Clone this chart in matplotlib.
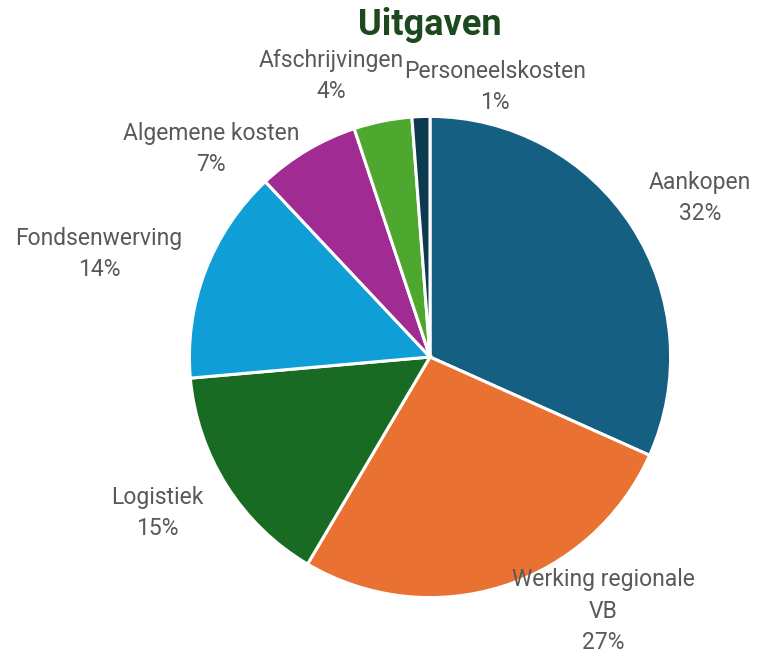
import matplotlib
matplotlib.use("Agg")
import matplotlib.pyplot as plt

categories = ["Aankopen", "Werking regionale\nVB", "Logistiek", "Fondsenwerving",
              "Algemene kosten", "Afschrijvingen", "Personeelskosten"]
values = [31.7, 26.8, 15.1, 14.4, 6.9, 3.9, 1.2]
colors = ["#156082", "#E97132", "#196B24", "#0F9ED5", "#A02B93", "#4EA72E", "#0E3A50"]

# label centre positions in pixels (x, y from top)
label_pos = [(700, 198), (603, 611), (157, 513), (99, 254), (211, 149), (331, 76), (495, 87)]

W, H = 757, 655
fig = plt.figure(figsize=(W / 100, H / 100), dpi=100)
cx, cy, r = 430, 357, 243
ax = fig.add_axes([(cx - r) / W, 1 - (cy + r) / H, 2 * r / W, 2 * r / H])
ax.pie(values, colors=colors, startangle=90, counterclock=False, radius=1,
       wedgeprops=dict(edgecolor="white", linewidth=2.2))
ax.set_xlim(-1.01, 1.01)
ax.set_ylim(-1.01, 1.01)
ax.set_aspect("equal")
ax.axis("off")

total = sum(values)
for cat, v, (px, py) in zip(categories, values, label_pos):
    fig.text(px / W, 1 - py / H, f"{cat}\n{round(v / total * 100)}%",
             ha="center", va="center", ma="center", fontsize=16.5,
             color="#595959", family=["Roboto", "DejaVu Sans"], linespacing=1.45)

fig.text(430 / W, 1 - 25 / H, "Uitgaven", ha="center", va="center",
         fontsize=26, fontweight="bold", color="#1C4A1E",
         family=["Roboto", "DejaVu Sans"])

fig.savefig("out.png", dpi=100, facecolor="white")
